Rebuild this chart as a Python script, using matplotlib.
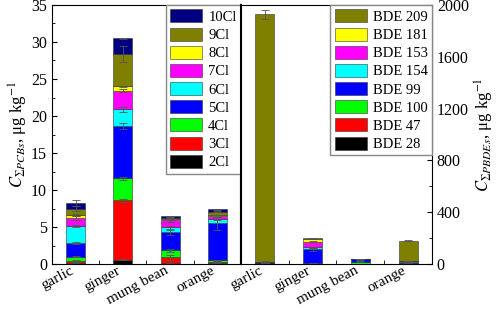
import matplotlib.pyplot as plt
import matplotlib.transforms as mtransforms
import numpy as np
from matplotlib.ticker import MultipleLocator

plt.rcParams['font.family'] = ['Liberation Serif', 'DejaVu Serif']
plt.rcParams['mathtext.fontset'] = 'stix'

foods = ['garlic', 'ginger', 'mung bean', 'orange']

# PCB homologue groups, values in ug/kg (segment heights)
pcb_names = ['2Cl', '3Cl', '4Cl', '5Cl', '6Cl', '7Cl', '8Cl', '9Cl', '10Cl']
pcb_vals = [
    [0.2, 0.6, 0.1, 0.15],
    [0.25, 8.0, 0.8, 0.2],
    [0.55, 3.0, 1.0, 0.15],
    [1.85, 7.0, 2.4, 5.0],
    [2.3, 2.3, 0.7, 0.6],
    [1.1, 2.5, 0.9, 0.4],
    [0.4, 0.6, 0.15, 0.15],
    [0.85, 4.4, 0.2, 0.45],
    [0.7, 2.1, 0.2, 0.3],
]
pcb_err = [
    [0.05, 0.05, 0.05, 0.05],
    [0.1, 0.15, 0.3, 0.05],
    [0.1, 0.2, 0.2, 0.05],
    [0.2, 0.4, 0.3, 0.9],
    [0.2, 0.3, 0.2, 0.2],
    [0.3, 0.2, 0.2, 0.1],
    [0.1, 0.1, 0.05, 0.05],
    [0.3, 1.1, 0.05, 0.1],
    [0.4, 0.1, 0.05, 0.1],
]

# PBDE congeners, values in ug/kg
pbde_names = ['BDE 28', 'BDE 47', 'BDE 100', 'BDE 99', 'BDE 154', 'BDE 153', 'BDE 181', 'BDE 209']
pbde_vals = [
    [8, 2, 1, 2],
    [2, 2, 1, 2],
    [2, 3, 18, 4],
    [3, 108, 16, 12],
    [1, 15, 1, 1],
    [2, 44, 0.5, 1],
    [2, 20, 0.5, 1],
    [1908, 4, 0, 159],
]
pbde_err = [
    [2, 1, 1, 1],
    [1, 1, 1, 1],
    [1, 1, 3, 1],
    [1, 10, 3, 2],
    [1, 2, 1, 1],
    [1, 4, 1, 1],
    [1, 3, 1, 1],
    [35, 2, 1, 5],
]

colors = ['black', 'red', '#00FF00', 'blue', 'cyan', 'magenta', 'yellow', '#808000', '#000080']
pbde_colors = ['black', 'red', '#00FF00', 'blue', 'cyan', 'magenta', 'yellow', '#808000']

fig = plt.figure(figsize=(4.98, 3.10), dpi=100)
ax1 = fig.add_axes([0.1044, 0.148, 0.3795, 0.836])
ax2 = fig.add_axes([0.4839, 0.148, 0.3835, 0.836])

x = np.arange(len(foods))
w = 0.4


def stack(ax, vals, errs, names, cols):
    bottom = np.zeros(len(foods))
    handles = []
    for v, e, n, c in zip(vals, errs, names, cols):
        v = np.array(v, dtype=float)
        b = ax.bar(x, v, w, bottom=bottom, color=c, edgecolor='#333333', linewidth=0.4, label=n)
        ax.errorbar(x, bottom + v, yerr=e, fmt='none', ecolor='#555555', elinewidth=0.6, capsize=3, capthick=0.6)
        handles.append(b)
        bottom += v
    return handles


h1 = stack(ax1, pcb_vals, pcb_err, pcb_names, colors)
h2 = stack(ax2, pbde_vals, pbde_err, pbde_names, pbde_colors)

ax1.set_ylim(0, 35)
ax1.yaxis.set_major_locator(MultipleLocator(5))
ax1.yaxis.set_minor_locator(MultipleLocator(2.5))
ax1.set_ylabel(r'$C_{\Sigma PCBs}$, μg kg$^{-1}$', fontsize=12, labelpad=1)

ax2.set_ylim(0, 2000)
ax2.yaxis.set_major_locator(MultipleLocator(400))
ax2.yaxis.set_minor_locator(MultipleLocator(200))
ax2.yaxis.tick_right()
ax2.yaxis.set_label_position('right')
ax2.set_ylabel(r'$C_{\Sigma PBDEs}$, μg kg$^{-1}$', fontsize=12, labelpad=3)

shift = mtransforms.ScaledTranslation(13 / 100, 0, fig.dpi_scale_trans)
for ax in (ax1, ax2):
    ax.set_xlim(-0.5, 3.5)
    ax.set_xticks(x)
    ax.set_xticklabels(foods, rotation=28, ha='right', fontsize=11)
    for lab in ax.get_xticklabels():
        lab.set_transform(lab.get_transform() + shift)
    ax.set_xticks([0.5, 1.5, 2.5], minor=True)
    ax.tick_params(axis='x', which='major', length=0, pad=0)
    ax.tick_params(axis='x', which='minor', direction='in', length=3)
    ax.tick_params(axis='y', which='both', direction='in', labelsize=11.5)
    ax.tick_params(axis='y', which='minor', length=2)
    for s in ax.spines.values():
        s.set_linewidth(0.8)

ax1.spines['right'].set_linewidth(1.5)
ax2.spines['left'].set_linewidth(1.5)
ax2.tick_params(axis='y', left=False, which='both')

leg_kw = dict(loc='upper right', borderaxespad=0, fontsize=10.5, handlelength=2.2, handleheight=1.0,
              labelspacing=0.25, fancybox=False, edgecolor='#888888', framealpha=1, borderpad=0.3,
              handletextpad=0.4)
ax1.legend(h1[::-1], pcb_names[::-1], **leg_kw)
ax2.legend(h2[::-1], pbde_names[::-1], **leg_kw)

fig.savefig('out.png', dpi=100)
